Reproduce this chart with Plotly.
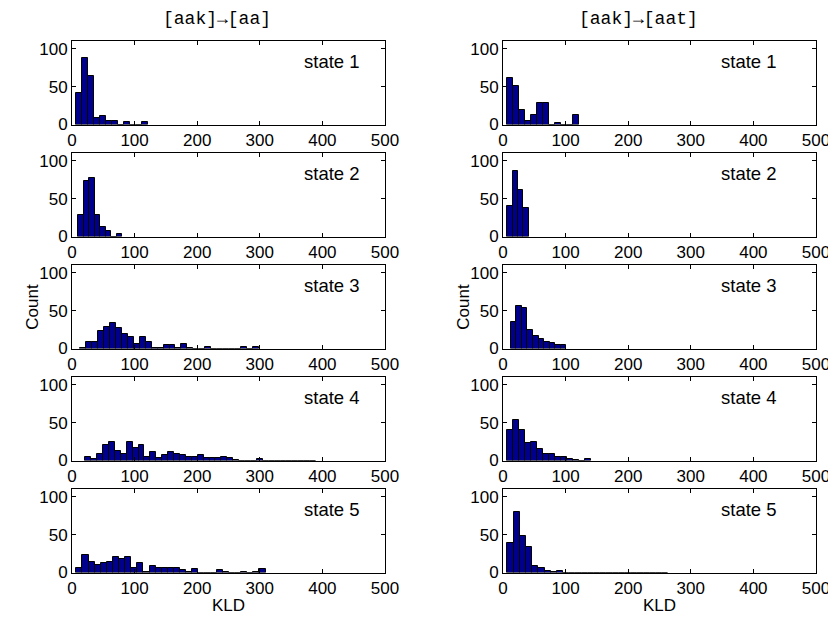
import plotly.graph_objects as go

# ---------------- data (histogram counts) ----------------
# [aak]->[aa] column
aa_state1 = [41, 87, 64, 9, 11, 4, 5, 0, 3, 0, 0, 3]
aa_state2 = [28, 73, 77, 28, 13, 7, 0, 3]
aa_state3 = [1, 8, 8, 23, 28, 34, 27, 19, 15, 6, 15, 8, 1, 1, 4, 4, 1, 6, 1, 0,
             0, 2, 0, 0, 0, 0, 0, 2, 0, 2]
aa_state4 = [5, 2, 9, 20, 25, 13, 9, 25, 17, 21, 5, 11, 3, 7, 11, 9, 7, 5, 5, 7,
             3, 3, 3, 5, 3, 1, 0, 0, 0, 2, 0, 0, 0, 0, 0, 0, 0, 0, 0]
aa_state5 = [6, 23, 14, 10, 12, 14, 21, 18, 21, 6, 12, 1, 8, 6, 6, 6, 6, 3, 1, 4,
             0, 0, 0, 3, 1, 0, 0, 1, 0, 1, 4]
aa_bin_start = [7.0, 9.6, 12.5, 21.3, 6.9]
aa_bin_width = [9.5, 8.8, 9.55, 9.45, 9.75]

# [aak]->[aat] column
aat_state1 = [61, 51, 19, 5, 13, 28, 28, 0, 2, 0, 0, 13]
aat_state2 = [40, 86, 61, 38]
aat_state3 = [35, 56, 54, 25, 16, 12, 9, 7, 4, 4]
aat_state4 = [40, 53, 40, 23, 25, 15, 9, 9, 5, 5, 2, 1, 0, 2]
aat_state5 = [39, 80, 48, 33, 9, 6, 2, 1, 2, 0, 0, 0, 0, 0, 0, 0, 0, 0, 0, 0,
              0, 0, 0, 0, 0, 0]
aat_bin_start = [6.9, 6.9, 12.3, 6.9, 6.9]
aat_bin_width = [9.6, 8.5, 8.9, 9.5, 9.9]

column_titles = ["[aak]\u2192[aa]", "[aak]\u2192[aat]"]
state_labels = ["state 1", "state 2", "state 3", "state 4", "state 5"]
x_ticks = [0, 100, 200, 300, 400, 500]
y_ticks = [0, 50, 100]
x_label = "KLD"
y_label = "Count"

columns = [
    ([aa_state1, aa_state2, aa_state3, aa_state4, aa_state5], aa_bin_start, aa_bin_width),
    ([aat_state1, aat_state2, aat_state3, aat_state4, aat_state5], aat_bin_start, aat_bin_width),
]

# ---------------- layout geometry (screenshot pixels) ----------------
OFF = 8                      # default page margin of the html body
W, H = 836 - OFF, 620 - OFF  # figure size so that the page fits the window


def px(x):
    return (x - OFF) / W


def py(y):
    return 1 - (y - OFF) / H


col_px = [(72, 385), (503, 816)]
row_tops = [41, 153, 265, 377, 489]
row_h = 83.5
state_x = [367, 345]
title_x = [217, 638]

FONT = "Liberation Sans, Arial, sans-serif"
FS = 17
BAR_COLOR = "#00008C"

fig = go.Figure()
layout = dict(
    width=W, height=H,
    margin=dict(l=0, r=0, t=0, b=0),
    paper_bgcolor="white", plot_bgcolor="white",
    showlegend=False,
    font=dict(family=FONT, size=FS, color="black"),
    bargap=0,
)
annotations = []

for c, (series, starts, widths) in enumerate(columns):
    x0, x1 = col_px[c]
    for r in range(5):
        idx = c * 5 + r + 1
        counts = series[r]
        s, w = starts[r], widths[r]
        centers = [s + w * (i + 0.5) for i in range(len(counts))]
        fig.add_trace(go.Bar(
            x=centers, y=counts, width=w,
            marker=dict(color=BAR_COLOR, line=dict(color="black", width=1)),
            xaxis=f"x{idx}", yaxis=f"y{idx}",
            hoverinfo="x+y",
        ))
        top = row_tops[r]
        ydom = [py(top + row_h), py(top)]
        xdom = [px(x0), px(x1)]
        common = dict(
            showline=True, linecolor="black", linewidth=1, mirror="ticks",
            ticks="inside", ticklen=4, tickcolor="black", tickwidth=1,
            showgrid=False, zeroline=False, automargin=False,
            tickfont=dict(family=FONT, size=FS, color="black"),
        )
        layout[f"xaxis{idx}"] = dict(
            domain=xdom, range=[0, 500], tickvals=x_ticks,
            anchor=f"y{idx}", **common,
        )
        layout[f"yaxis{idx}"] = dict(
            domain=ydom, range=[0, 110], tickvals=y_ticks,
            anchor=f"x{idx}", **common,
        )
        annotations.append(dict(
            x=state_x[c], y=83, xref=f"x{idx}", yref=f"y{idx}",
            text=state_labels[r], showarrow=False, xanchor="left", yanchor="middle",
            font=dict(family=FONT, size=18.5, color="black"),
        ))
    # column title
    annotations.append(dict(
        x=px(title_x[c]), y=py(19), xref="paper", yref="paper",
        text=column_titles[c], showarrow=False, xanchor="center", yanchor="middle",
        font=dict(family="Liberation Mono, Courier New, monospace", size=18, color="black"),
    ))
    # x label
    annotations.append(dict(
        x=px((x0 + x1) / 2), y=py(605), xref="paper", yref="paper",
        text=x_label, showarrow=False, xanchor="center", yanchor="middle",
        font=dict(family=FONT, size=FS, color="black"),
    ))
    # y label
    annotations.append(dict(
        x=px(x0 - 39), y=py(row_tops[2] + row_h / 2), xref="paper", yref="paper",
        text=y_label, showarrow=False, xanchor="center", yanchor="middle", textangle=-90,
        font=dict(family=FONT, size=FS, color="black"),
    ))

layout["annotations"] = annotations
fig.update_layout(**layout)
fig.write_html("out.html")
